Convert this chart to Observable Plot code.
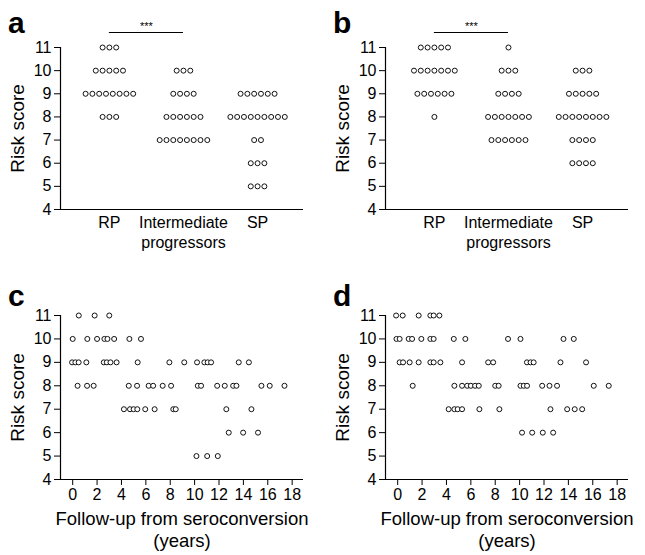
<!DOCTYPE html>
<html><head><meta charset="utf-8">
<script src="https://cdn.jsdelivr.net/npm/d3@7"></script>
<script src="https://cdn.jsdelivr.net/npm/@observablehq/plot@0.6"></script>
<style>
body{margin:0;background:#fff;}
#root{position:relative;width:645px;height:555px;font-family:"Liberation Sans",Arial,sans-serif;color:#000;}
.panel{position:absolute;}
.letter{position:absolute;font-weight:bold;font-size:30px;line-height:30px;}
</style></head><body><div id="root"></div>
<script>
// ---- data ----
const scoreLevels = [11, 10, 9, 8, 7, 6, 5];
const groupLabels = ["RP", "Intermediate\nprogressors", "SP"];
const yTicks = [4, 5, 6, 7, 8, 9, 10, 11];
const yearTicks = [0, 2, 4, 6, 8, 10, 12, 14, 16, 18];
const sigLabel = "***";
const yLabel = "Risk score";
const xYearsLabel = "Follow-up from seroconversion\n(years)";

// panel a: number of patients per risk score (11..5)
const aCountsRP  = [3, 5, 8, 3, 0, 0, 0];
const aCountsInt = [0, 3, 4, 6, 8, 0, 0];
const aCountsSP  = [0, 0, 6, 9, 2, 3, 3];
// panel b
const bCountsRP  = [5, 7, 6, 1, 0, 0, 0];
const bCountsInt = [1, 3, 4, 7, 6, 0, 0];
const bCountsSP  = [0, 3, 5, 8, 4, 4, 0];

// panel c: follow-up years per risk score
const c11 = [0.5, 1.8, 3.0];
const c10 = [0.0, 1.2, 2.0, 2.6, 2.85, 3.4, 4.65, 5.6];
const c9  = [-0.05, 0.22, 0.49, 1.12, 2.55, 2.8, 3.1, 3.6, 5.33, 7.93, 9.15, 10.2, 10.8, 11.07, 11.35, 13.62, 14.45];
const c8  = [0.4, 1.18, 1.72, 4.6, 5.28, 6.23, 6.6, 7.38, 8.07, 10.26, 10.53, 11.85, 12.47, 13.16, 13.43, 15.48, 16.16, 17.37];
const c7  = [4.2, 4.7, 5.0, 5.3, 5.95, 6.72, 8.25, 8.45, 12.6, 14.66];
const c6  = [12.8, 13.98, 15.2];
const c5  = [10.15, 11.03, 11.9];
// panel d
const d11 = [-0.13, 0.41, 1.72, 2.68, 2.95, 3.42];
const d10 = [-0.1, 0.16, 0.9, 1.18, 1.94, 2.68, 2.95, 4.6, 5.55, 9.05, 10.07, 13.6, 14.44];
const d9  = [0.16, 0.44, 0.98, 1.72, 2.68, 2.95, 3.5, 5.28, 7.42, 7.83, 10.6, 10.9, 11.15, 13.35, 15.45];
const d8  = [1.23, 4.65, 5.28, 5.7, 6.0, 6.35, 6.65, 8.0, 8.28, 10.07, 10.34, 10.61, 11.85, 12.45, 13.07, 16.08, 17.31];
const d7  = [4.18, 4.65, 4.92, 5.28, 6.7, 8.34, 12.53, 13.9, 14.52, 15.13];
const d6  = [10.2, 11.03, 11.9, 12.75];
const d5  = [];

// ---- drawing ----
const FONT = '"Liberation Sans", Arial, sans-serif';
const INK = "#000";
const dotStyle = {r: 2.5, stroke: "#111", strokeWidth: 1, fill: "white"};

function groupPanel(countsByGroup) {
  const xDom = [-0.66, 2.62];
  const frameW = 320 - 60 - 17;
  const step = 6.8 * (xDom[1] - xDom[0]) / frameW;
  const rows = [];
  countsByGroup.forEach((counts, g) => counts.forEach((n, li) => {
    for (let i = 0; i < n; i++) rows.push({g, score: scoreLevels[li], k: i - (n - 1) / 2});
  }));
  return Plot.plot({
    width: 320, height: 260, marginLeft: 60, marginRight: 17, marginTop: 47, marginBottom: 51,
    style: {fontFamily: FONT, fontSize: "16px", color: INK, background: "transparent", overflow: "visible"},
    x: {domain: xDom},
    y: {domain: [4, 11]},
    marks: [
      Plot.ruleY([4], {stroke: INK, strokeWidth: 1.2}),
      Plot.ruleX([xDom[0]], {y1: 4, y2: 11, stroke: INK, strokeWidth: 1.2}),
      Plot.axisY(yTicks, {tickSize: 6, tickPadding: 3, fontSize: 16, label: null, stroke: INK, fill: INK}),
      Plot.axisX([0, 1, 2], {tickSize: 0, tickPadding: 4, tickFormat: i => groupLabels[i], fontSize: 16, lineHeight: 1.25, label: null, fill: INK}),
      Plot.text([yLabel], {frameAnchor: "left", text: d => d, rotate: -90, dx: -43, textAnchor: "middle", fontSize: 19, fill: INK}),
      Plot.ruleY([11], {x1: 0, x2: 1, dy: -15, stroke: INK, strokeWidth: 1}),
      Plot.text([sigLabel], {x: 0.5, y: 11, text: d => d, dy: -21, fontSize: 11, fill: INK}),
      Plot.dot(rows, {x: d => d.g + d.k * step, y: "score", ...dotStyle})
    ]
  });
}

function yearsPanel(rowsByScore) {
  const xDom = [-1, 18.93];
  const pts = rowsByScore.flatMap(([score, years]) => years.map(x => ({x, score})));
  return Plot.plot({
    width: 320, height: 287, marginLeft: 60, marginRight: 17, marginTop: 47, marginBottom: 76,
    style: {fontFamily: FONT, fontSize: "16px", color: INK, background: "transparent", overflow: "visible"},
    x: {domain: xDom},
    y: {domain: [4, 11]},
    marks: [
      Plot.ruleY([4], {stroke: INK, strokeWidth: 1.2}),
      Plot.ruleX([xDom[0]], {y1: 4, y2: 11, stroke: INK, strokeWidth: 1.2}),
      Plot.axisY(yTicks, {tickSize: 6, tickPadding: 3, fontSize: 16, label: null, stroke: INK, fill: INK}),
      Plot.axisX(yearTicks, {tickSize: 6, tickPadding: 3, fontSize: 16, label: null, stroke: INK, fill: INK}),
      Plot.text([yLabel], {frameAnchor: "left", text: d => d, rotate: -90, dx: -43, textAnchor: "middle", fontSize: 19, fill: INK}),
      Plot.text([xYearsLabel], {frameAnchor: "bottom", text: d => d, lineAnchor: "top", dy: 30, fontSize: 18.5, lineHeight: 1.2, fill: INK}),
      Plot.dot(pts, {x: "x", y: "score", ...dotStyle})
    ]
  });
}

const root = document.getElementById("root");
function place(node, left, top) {
  const wrap = document.createElement("div");
  wrap.className = "panel";
  wrap.style.left = left + "px";
  wrap.style.top = top + "px";
  wrap.appendChild(node);
  root.appendChild(wrap);
}
function letter(ch, left, top) {
  const el = document.createElement("div");
  el.className = "letter";
  el.textContent = ch;
  el.style.left = left + "px";
  el.style.top = top + "px";
  root.appendChild(el);
}

place(groupPanel([aCountsRP, aCountsInt, aCountsSP]), 0, 0);
place(groupPanel([bCountsRP, bCountsInt, bCountsSP]), 325, 0);
place(yearsPanel([[11, c11], [10, c10], [9, c9], [8, c8], [7, c7], [6, c6], [5, c5]]), 0, 268);
place(yearsPanel([[11, d11], [10, d10], [9, d9], [8, d8], [7, d7], [6, d6], [5, d5]]), 325, 268);

letter("a", 8, 8);
letter("b", 333, 8);
letter("c", 8, 281);
letter("d", 333, 281);
</script></body></html>
